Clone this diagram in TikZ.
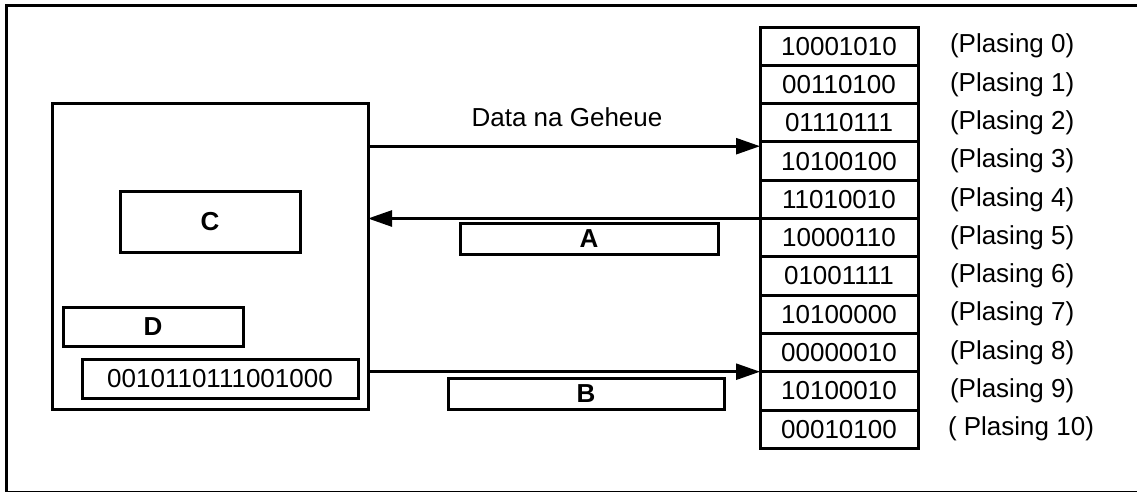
\documentclass[tikz,border=0pt]{standalone}
\usepackage{fontspec}
\setmainfont{Liberation Sans}
\usetikzlibrary{arrows.meta}
\begin{document}
\begin{tikzpicture}[x=1pt,y=-1pt,
  every node/.style={inner sep=0pt,outer sep=0pt,font=\fontsize{26}{30}\selectfont},
  box/.style={draw,line width=3pt},
  cell/.style={box,minimum width=158pt,minimum height=38.3pt},
  lbl/.style={font=\fontsize{26}{30}\selectfont\bfseries},
  flow/.style={line width=2.6pt,-{Triangle[length=24pt,width=16pt]}}]
\useasboundingbox (0,0) rectangle (1137,493);
% outer frame (open on the right)
\draw[line width=3pt] (1137,5.5) -- (6.5,5.5) -- (6.5,491.5);
\draw[line width=1.5pt] (5,491.5) -- (1137,491.5);

% processor block with its registers
\node[box,minimum width=316pt,minimum height=306pt] (cpu) at (210,256) {};
\node[box,minimum width=180pt,minimum height=61pt] (regC) at (210,221.5) {\bfseries C};
\node[box,minimum width=180pt,minimum height=39pt] (regD) at (153,326.5) {\bfseries D};
\node[box,minimum width=276pt,minimum height=39pt] (regX) at (220,378.5) {0010110111001000};

% memory cells and their locations
\foreach \v [count=\i from 0] in {10001010,00110100,01110111,10100100,11010010,10000110,01001111,10100000,00000010,10100010,00010100}{
  \node[cell] (m\i) at (839,{27+38.3*(\i+0.5)}) {\v};
}
\foreach \i in {0,...,9}{
  \node[anchor=west] (p\i) at (950,{27+38.3*(\i+0.5)}) {(Plasing \i)};
}
\node[anchor=west] (p10) at (948,{27+38.3*10.5}) {( Plasing 10)};

% buses between processor and memory
\coordinate (t1) at ([yshift=-4.3pt]m3.north west);
\draw[flow] (t1 -| cpu.east) -- (t1);
\node (lblData) at (567,117) {Data na Geheue};
\draw[flow] (m5.north west) -- (m5.north west -| cpu.east);
\node[box,minimum width=258pt,minimum height=31pt] (regA) at (589,238.5) {\bfseries A};
\draw[flow] (m9.north west -| cpu.east) -- (m9.north west);
\node[box,minimum width=276pt,minimum height=31pt] (regB) at (586,393.5) {\bfseries B};
\end{tikzpicture}
\end{document}
